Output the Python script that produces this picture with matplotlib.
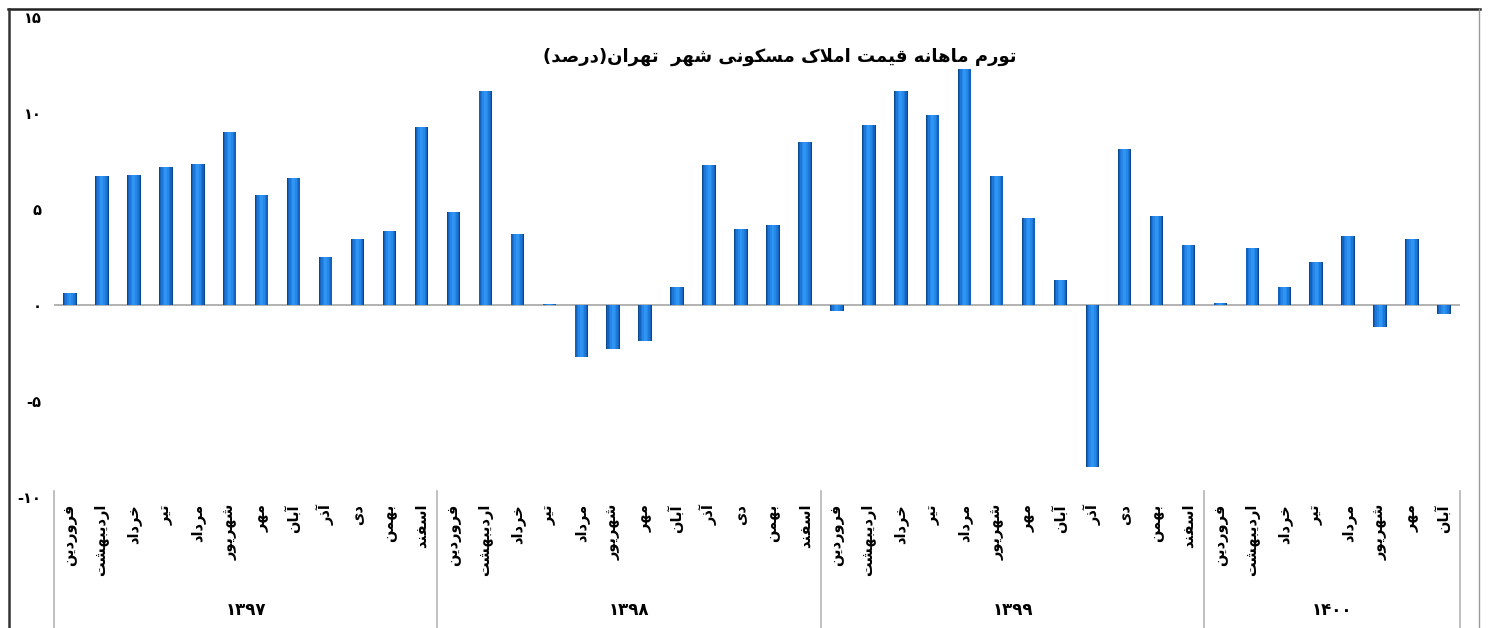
import numpy as np
import matplotlib
matplotlib.use('Agg')
import matplotlib.pyplot as plt
from matplotlib.ticker import FixedLocator, FuncFormatter
from matplotlib.transforms import blended_transform_factory

# ---- data -----------------------------------------------------------------
title = 'تورم ماهانه قیمت املاک مسکونی شهر  تهران(درصد)'
years = ['۱۳۹۷', '۱۳۹۸', '۱۳۹۹', '۱۴۰۰']
months = ['فروردین', 'اردیبهشت', 'خرداد', 'تیر', 'مرداد', 'شهریور',
          'مهر', 'آبان', 'آذر', 'دی', 'بهمن', 'اسفند']
months_per_year = [12, 12, 12, 8]

values_1397 = [0.6, 6.7, 6.75, 7.2, 7.35, 9.0, 5.75, 6.6, 2.5, 3.45, 3.85, 9.25]
values_1398 = [4.85, 11.15, 3.7, 0.05, -2.7, -2.3, -1.85, 0.95, 7.3, 3.95, 4.15, 8.5]
values_1399 = [-0.3, 9.35, 11.15, 9.9, 12.3, 6.7, 4.55, 1.3, -8.45, 8.15, 4.65, 3.15]
values_1400 = [0.1, 2.95, 0.95, 2.25, 3.6, -1.15, 3.45, -0.45]

y_ticks = [-10, -5, 0, 5, 10, 15]

# ---- simple persian shaping (matplotlib has no bidi / joining) -------------
# letter: (isolated, final, initial, medial); None -> letter does not join forward
FORMS = {
    'ا': ('\uFE8D', '\uFE8E', None, None),
    'آ': ('\uFE81', '\uFE82', None, None),
    'ب': ('\uFE8F', '\uFE90', '\uFE91', '\uFE92'),
    'پ': ('\uFB56', '\uFB57', '\uFB58', '\uFB59'),
    'ت': ('\uFE95', '\uFE96', '\uFE97', '\uFE98'),
    'خ': ('\uFEA5', '\uFEA6', '\uFEA7', '\uFEA8'),
    'د': ('\uFEA9', '\uFEAA', None, None),
    'ذ': ('\uFEAB', '\uFEAC', None, None),
    'ر': ('\uFEAD', '\uFEAE', None, None),
    'ز': ('\uFEAF', '\uFEB0', None, None),
    'س': ('\uFEB1', '\uFEB2', '\uFEB3', '\uFEB4'),
    'ش': ('\uFEB5', '\uFEB6', '\uFEB7', '\uFEB8'),
    'ص': ('\uFEB9', '\uFEBA', '\uFEBB', '\uFEBC'),
    'ف': ('\uFED1', '\uFED2', '\uFED3', '\uFED4'),
    'ق': ('\uFED5', '\uFED6', '\uFED7', '\uFED8'),
    'ک': ('\uFB8E', '\uFB8F', '\uFB90', '\uFB91'),
    'ل': ('\uFEDD', '\uFEDE', '\uFEDF', '\uFEE0'),
    'م': ('\uFEE1', '\uFEE2', '\uFEE3', '\uFEE4'),
    'ن': ('\uFEE5', '\uFEE6', '\uFEE7', '\uFEE8'),
    'ه': ('\uFEE9', '\uFEEA', '\uFEEB', '\uFEEC'),
    'و': ('\uFEED', '\uFEEE', None, None),
    'ی': ('\uFBFC', '\uFBFD', '\uFBFE', '\uFBFF'),
}
LAM_ALEF = {'ا': ('\uFEFB', '\uFEFC'), 'آ': ('\uFEF5', '\uFEF6')}
MIRROR = {'(': ')', ')': '('}


def joins_forward(ch):
    return ch in FORMS and FORMS[ch][2] is not None


def shape(text):
    """
    Turn logical persian text into visual order presentation forms
    """
    out = []
    i = 0
    while i < len(text):
        ch = text[i]
        if ch not in FORMS:
            out.append(MIRROR.get(ch, ch))
            i += 1
            continue
        prev = text[i - 1] if i > 0 else ''
        nxt = text[i + 1] if i + 1 < len(text) else ''
        prev_conn = joins_forward(prev)
        if ch == 'ل' and nxt in LAM_ALEF:
            out.append(LAM_ALEF[nxt][1 if prev_conn else 0])
            i += 2
            continue
        next_conn = joins_forward(ch) and nxt in FORMS
        iso, fin, ini, med = FORMS[ch]
        if prev_conn and next_conn:
            out.append(med)
        elif prev_conn:
            out.append(fin)
        elif next_conn:
            out.append(ini)
        else:
            out.append(iso)
        i += 1
    return ''.join(reversed(out))


def to_fa(num):
    digits = '۰۱۲۳۴۵۶۷۸۹'
    s = str(int(num))
    return ''.join(digits[int(c)] if c.isdigit() else c for c in s)


def draw_bars(ax, x, vals):
    """
    Fake the cylinder shading of the excel bars with nested bars
    """
    layers = [(0.42, '#0c4890'), (0.37, '#1462bd'), (0.29, '#1c77d6'),
              (0.19, '#2587e8'), (0.09, '#3095f2')]
    for w, c in layers:
        ax.bar(x, vals, width=w, color=c, linewidth=0, zorder=3)


plt.rcParams['font.family'] = ['DejaVu Sans']

fig = plt.figure(figsize=(14.88, 6.28), dpi=100)
ax = fig.add_axes([54 / 1488, 1 - 497 / 628, (1460 - 54) / 1488, (497 - 17) / 628])

all_values = values_1397 + values_1398 + values_1399 + values_1400
labels = []
for n in months_per_year:
    labels += months[:n]
x = np.arange(len(all_values))

draw_bars(ax, x, all_values)
ax.axhline(0, color='#a6a6a6', lw=1.2, zorder=2)

ax.set_xlim(-0.5, len(all_values) - 0.5)
ax.set_ylim(-10, 15)
for s in ax.spines.values():
    s.set_visible(False)

ax.yaxis.set_major_locator(FixedLocator(y_ticks))
ax.yaxis.set_major_formatter(FuncFormatter(lambda v, p: to_fa(v)))
ax.tick_params(axis='y', length=0, pad=9, labelsize=10.5)
for t in ax.get_yticklabels():
    t.set_fontweight('bold')

ax.set_xticks(x)
ax.set_xticklabels([shape(m) for m in labels], rotation=90, fontsize=10.5,
                   fontweight='bold')
ax.tick_params(axis='x', length=0, pad=5)

# group separators and year labels under the month labels
trans = blended_transform_factory(ax.transData, fig.transFigure)
bottom = 1 - 497 / 628
edges = np.concatenate([[0], np.cumsum(months_per_year)]) - 0.5
for e in edges:
    ax.plot([e, e], [0, bottom + 0.01], color='#b5b5b5', lw=1.2,
            transform=trans, clip_on=False)
for k, yr in enumerate(years):
    mid = (edges[k] + edges[k + 1]) / 2
    ax.text(mid, 1 - 610 / 628, yr, transform=trans, ha='center', va='center',
            fontsize=12, fontweight='bold')

fig.text(780 / 1488, 1 - 57 / 628, shape(title), ha='center', va='center',
         fontsize=13, fontweight='bold')

# outer frame of the chart
fig.add_artist(plt.Line2D([8 / 1488, 1480 / 1488], [1 - 9 / 628, 1 - 9 / 628],
                          transform=fig.transFigure, color='#222222', lw=1.8))
fig.add_artist(plt.Line2D([9 / 1488, 9 / 1488], [0, 1 - 9 / 628],
                          transform=fig.transFigure, color='#333333', lw=1.8))
fig.add_artist(plt.Line2D([1479 / 1488, 1479 / 1488], [0, 1 - 9 / 628],
                          transform=fig.transFigure, color='#9a9a9a', lw=1.0))

fig.savefig('out.png', dpi=100)
